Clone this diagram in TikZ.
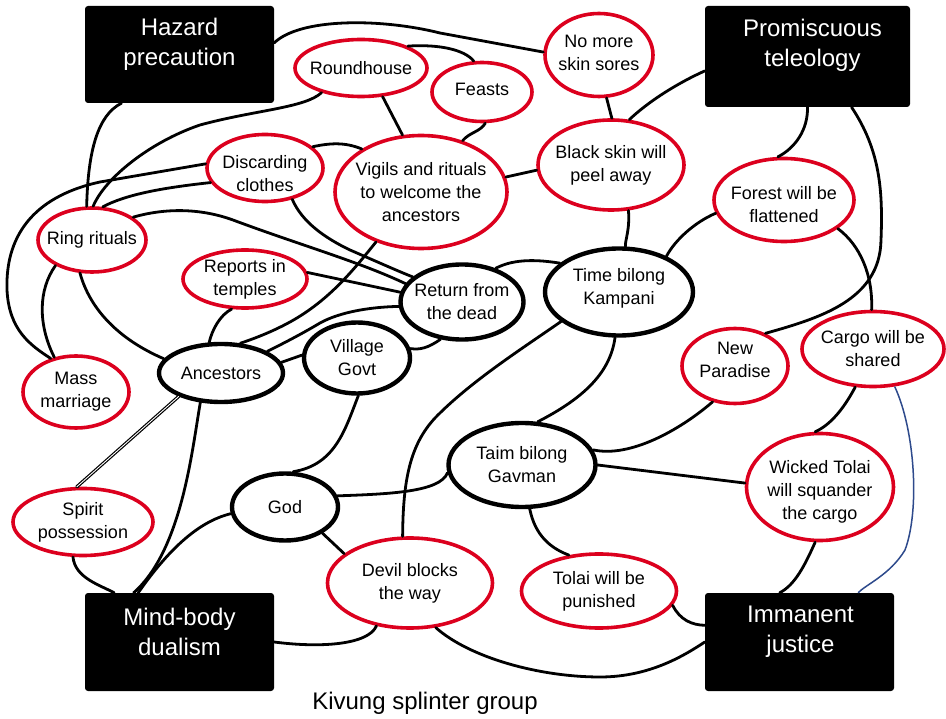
\documentclass[tikz,border=0pt]{standalone}
\usepackage{fontspec}
\setmainfont{Liberation Sans}
\usetikzlibrary{shapes.geometric}
\definecolor{myred}{RGB}{220,0,30}
\definecolor{myblue}{RGB}{46,74,140}
\begin{document}
\begin{tikzpicture}[x=1pt,y=-1pt,
 rel/.style={ellipse, draw=myred, line width=3.6pt, inner sep=0pt},
 kel/.style={ellipse, draw=black, line width=4.4pt, inner sep=0pt},
 lbl/.style={align=center, font=\fontsize{18}{23}\selectfont, inner sep=0pt, text=black},
 bx/.style={rectangle, fill=black, rounded corners=3pt, inner sep=0pt},
 btx/.style={align=center, font=\fontsize{24}{30}\selectfont, text=white, inner sep=0pt},
 conn/.style={line width=2.8pt, line cap=round, line join=round},
 ttl/.style={font=\fontsize{24}{28}\selectfont, inner sep=0pt}]
\fill[white] (0,0) rectangle (946,719);
\useasboundingbox (0,0) rectangle (946,719);

% boxes
\node[bx, minimum width=189, minimum height=97, label={[btx,yshift=10]center:{Hazard\\precaution}}] (hz) at (179.5,54.5) {};
\node[bx, minimum width=205, minimum height=101, label={[btx,yshift=11.5,xshift=5]center:{Promiscuous\\teleology}}] (pt) at (807.5,56.5) {};
\node[bx, minimum width=189, minimum height=98, label={[btx,yshift=10]center:{Mind-body\\dualism}}] (mb) at (179.5,642) {};
\node[bx, minimum width=189, minimum height=98, label={[btx,yshift=10,xshift=1]center:{Immanent\\justice}}] (ij) at (799.5,642) {};

% red ellipses
\node[rel, minimum width=132, minimum height=57, label={[lbl]center:Roundhouse}] (rh) at (361,68) {};
\node[rel, minimum width=100, minimum height=59, label={[lbl,yshift=3]center:Feasts}] (fe) at (482,92) {};
\node[rel, minimum width=108, minimum height=83, label={[lbl,yshift=2]center:{No more\\skin sores}}] (nm) at (599,55) {};
\node[rel, minimum width=116, minimum height=67, label={[lbl,yshift=-6]center:{Discarding\\clothes}}] (dc) at (265,168) {};
\node[rel, minimum width=172, minimum height=113, label={[lbl]center:{Vigils and rituals\\to welcome the\\ancestors}}] (vg) at (421,192) {};
\node[rel, minimum width=146, minimum height=90, label={[lbl]center:{Black skin will\\peel away}}] (bs) at (611,165) {};
\node[rel, minimum width=140, minimum height=83, label={[lbl,yshift=-5]center:{Forest will be\\flattened}}] (fo) at (784,200) {};
\node[rel, minimum width=108, minimum height=64, label={[lbl]center:Ring rituals}] (rr) at (92,240) {};
\node[rel, minimum width=124, minimum height=58, label={[lbl]center:{Reports in\\temples}}] (rp) at (245,279) {};
\node[rel, minimum width=106, minimum height=72, label={[lbl]center:{Mass\\marriage}}] (mm) at (76,392) {};
\node[rel, minimum width=106, minimum height=75, label={[lbl,yshift=6]center:{New\\Paradise}}] (np) at (735,366) {};
\node[rel, minimum width=142, minimum height=75, label={[lbl]center:{Cargo will be\\shared}}] (cg) at (873,349) {};
\node[rel, minimum width=140, minimum height=67, label={[lbl]center:{Spirit\\possession}}] (sp) at (83,522) {};
\node[rel, minimum width=147, minimum height=107, label={[lbl,yshift=-5]center:{Wicked Tolai\\will squander\\the cargo}}] (wt) at (820,487) {};
\node[rel, minimum width=165, minimum height=90, label={[lbl]center:{Devil blocks\\the way}}] (dv) at (410,583) {};
\node[rel, minimum width=155, minimum height=74, label={[lbl]center:{Tolai will be\\punished}}] (tp) at (599,591) {};

% black ellipses
\node[kel, minimum width=123, minimum height=75, label={[lbl]center:{Return from\\the dead}}] (rd) at (462,302) {};
\node[kel, minimum width=148, minimum height=87, label={[lbl,yshift=4]center:{Time bilong\\Kampani}}] (tk) at (619,292) {};
\node[kel, minimum width=124, minimum height=58, label={[lbl]center:Ancestors}] (an) at (221,373) {};
\node[kel, minimum width=106, minimum height=71, label={[lbl]center:{Village\\Govt}}] (vv) at (357,358) {};
\node[kel, minimum width=106, minimum height=67, label={[lbl]center:God}] (gd) at (285,507) {};
\node[kel, minimum width=147, minimum height=84, label={[lbl]center:{Taim bilong\\Gavman}}] (tg) at (522,465) {};

\node[ttl] (title) at (425,703) {Kivung splinter group};

% connectors
\draw[conn] (hz.7) .. controls (300,18) and (380,18) .. (440,33) -- (nm.177);
\draw[conn] (rh.25) .. controls (440,44) and (465,50) .. (fe.105);
\draw[conn] (rh.-53) -- (vg.108);
\draw[conn] (fe.-84) .. controls (480,132) and (470,132) .. (vg.51);
\draw[conn] (rh.212) .. controls (305,108) and (255,110) .. (200,125) .. controls (150,142) and (105,178) .. (rr.88);
\draw[conn] (hz.220) .. controls (98,115) and (88,150) .. (rr.99);
\draw[conn] (dc.176) -- (100,182) .. controls (40,195) and (5,230) .. (7,290) .. controls (9,330) and (30,345) .. (mm.127);
\draw[conn] (dc.195) .. controls (160,188) and (125,195) .. (rr.72);
\draw[conn] (rr.29) .. controls (165,208) and (200,208) .. (233,220) .. controls (300,245) and (360,262) .. (rd.162);
\draw[conn] (dc.311) .. controls (302,222) and (325,238) .. (350,250) .. controls (380,263) and (400,272) .. (rd.153);
\draw[conn] (dc.24) .. controls (330,143) and (345,142) .. (vg.144);
\draw[conn] (vg.228) .. controls (355,268) and (330,300) .. (290,322) .. controls (270,333) and (250,340) .. (an.57);
\draw[conn] (vg.10) -- (bs.184);
\draw[conn] (nm.280) -- (bs.89);
\draw[conn] (pt.188) .. controls (680,82) and (650,100) .. (bs.68);
\draw[conn] (bs.291) .. controls (630,230) and (625,240) .. (tk.82);
\draw[conn] (pt.270) .. controls (808,130) and (795,148) .. (fo.98);
\draw[conn] (pt.311) .. controls (880,150) and (883,190) .. (881,240) .. controls (880,300) and (820,318) .. (np.47);
\draw[conn] (fo.332) .. controls (860,245) and (873,275) .. (cg.92);
\draw[conn] (fo.191) .. controls (695,222) and (675,240) .. (tk.37);
\draw[conn] (tk.154) .. controls (540,260) and (515,258) .. (rd.45);
\draw[conn] (rd.240) .. controls (428,348) and (420,350) .. (vv.10);
\draw[conn] (rp.6) -- (rd.171);
\draw[conn] (rp.246) .. controls (220,315) and (212,330) .. (an.111);
\draw[conn] (rd.184) .. controls (370,307) and (340,312) .. (320,323) .. controls (300,335) and (280,345) .. (an.25);
\draw[conn] (an.10) -- (vv.177);
\draw[conn] (rr.250) .. controls (90,310) and (120,340) .. (an.166);
\draw[conn] (rr.215) .. controls (38,290) and (38,325) .. (mm.122);
\draw[conn, double=white, double distance=0.9pt, line width=1.2pt] (an.209) -- (sp.100);
\draw[conn] (an.235) .. controls (192,450) and (182,550) .. (mb.133);
\draw[conn] (gd.187) .. controls (205,520) and (175,540) .. (mb.130);
\draw[conn] (sp.254) .. controls (75,578) and (100,585) .. (mb.143);
\draw[conn] (vv.272) .. controls (345,430) and (335,465) .. (gd.77);
\draw[conn] (gd.12) .. controls (390,494) and (440,492) .. (tg.186);
\draw[conn] (gd.325) -- (dv.156);
\draw[conn] (dv.99) .. controls (403,480) and (410,445) .. (435,418) .. controls (470,382) and (520,350) .. (tk.207);
\draw[conn] (dv.232) .. controls (368,645) and (320,648) .. (mb.0);
\draw[conn] (dv.300) .. controls (470,658) and (540,677) .. (600,677) .. controls (650,677) and (685,655) .. (ij.180);
\draw[conn] (tp.349) .. controls (680,620) and (692,625) .. (ij.170);
\draw[conn] (tg.280) .. controls (535,535) and (550,548) .. (tp.130);
\draw[conn] (tg.12) .. controls (630,458) and (680,430) .. (np.238);
\draw[conn] (tg.0) -- (wt.177);
\draw[conn] (tg.70) .. controls (580,400) and (610,375) .. (tk.265);
\draw[conn] (cg.245) .. controls (843,410) and (830,425) .. (wt.95);
\draw[myblue, line width=1.5pt] (cg.300) .. controls (915,430) and (920,510) .. (905,550) .. controls (890,575) and (865,585) .. (ij.40);
\draw[conn] (wt.265) .. controls (805,565) and (795,585) .. (ij.112);
\end{tikzpicture}
\end{document}
